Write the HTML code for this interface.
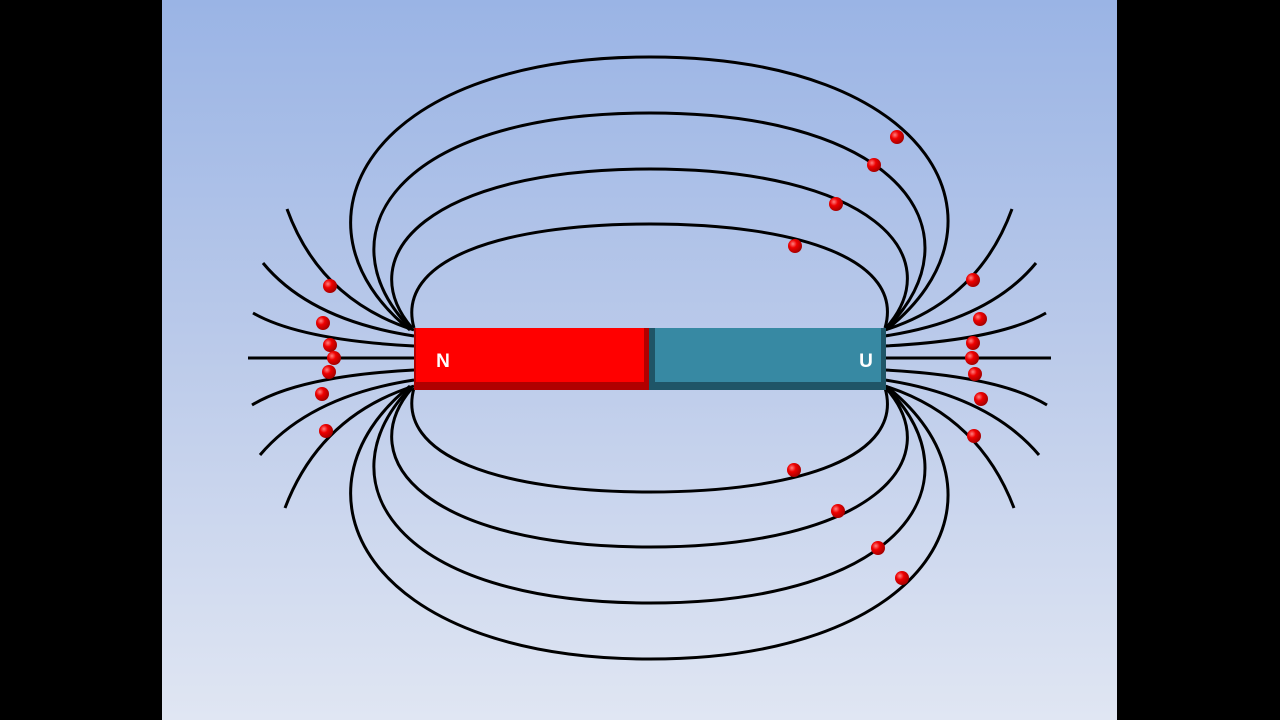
<!DOCTYPE html>
<html><head><style>
html,body{margin:0;padding:0;width:1280px;height:720px;overflow:hidden;background:#000}
</style></head><body>
<svg width="1280" height="720" viewBox="0 0 1280 720" xmlns="http://www.w3.org/2000/svg">
<defs>
<linearGradient id="bg" x1="0" y1="0" x2="0" y2="1">
<stop offset="0" stop-color="#9ab4e5"/><stop offset="0.5" stop-color="#bccbea"/><stop offset="1" stop-color="#e0e6f3"/>
</linearGradient>
<radialGradient id="ball" cx="0.35" cy="0.35" r="0.7">
<stop offset="0" stop-color="#ff8080"/><stop offset="0.4" stop-color="#ee0000"/><stop offset="1" stop-color="#a00000"/>
</radialGradient>
</defs>
<rect x="0" y="0" width="1280" height="720" fill="#000"/>
<rect x="162" y="0" width="955" height="720" fill="url(#bg)"/>
<g fill="none" stroke="#000" stroke-width="3">
<g>
<path d="M414,328 C395,260 500,224 650,224 C800,224 905,260 885,328"/>
<path d="M412,328 C350,255 430,169 650,169 C870,169 950,255 886,328"/>
<path d="M411,329 C320,235 395,113 650,113 C905,113 980,235 886,329"/>
<path d="M410,330 C280,225 365,57 650,57 C935,57 1020,225 886,330"/>
</g>
<g transform="matrix(1,0,0,-1,0,716)">
<path d="M414,328 C395,260 500,224 650,224 C800,224 905,260 885,328"/>
<path d="M412,328 C350,255 430,169 650,169 C870,169 950,255 886,328"/>
<path d="M411,329 C320,235 395,113 650,113 C905,113 980,235 886,329"/>
<path d="M410,330 C280,225 365,57 650,57 C935,57 1020,225 886,330"/>
</g>
<g>
<path d="M414,330 Q320,300 287,209"/>
<path d="M414,336 Q310,320 263,263"/>
<path d="M414,346 Q300,340 253,313"/>
<path d="M414,358 L248,358"/>
<path d="M414,370 Q300,376 252,405"/>
<path d="M414,380 Q310,396 260,455"/>
<path d="M414,386 Q320,416 285,508"/>
</g>
<g transform="matrix(-1,0,0,1,1299,0)">
<path d="M414,330 Q320,300 287,209"/>
<path d="M414,336 Q310,320 263,263"/>
<path d="M414,346 Q300,340 253,313"/>
<path d="M414,358 L248,358"/>
<path d="M414,370 Q300,376 252,405"/>
<path d="M414,380 Q310,396 260,455"/>
<path d="M414,386 Q320,416 285,508"/>
</g>
</g>
<rect x="414" y="328" width="235" height="62" fill="#b00000"/>
<rect x="416" y="328" width="228" height="54" fill="#ff0000"/>
<rect x="649" y="328" width="237" height="62" fill="#1f5567"/>
<rect x="655" y="328" width="226" height="54" fill="#3789a3"/>
<text x="443" y="367" font-family="Liberation Sans, sans-serif" font-weight="bold" font-size="19" fill="#fff" text-anchor="middle">N</text>
<text x="866" y="367" font-family="Liberation Sans, sans-serif" font-weight="bold" font-size="19" fill="#fff" text-anchor="middle">U</text>
<g fill="url(#ball)">
<circle cx="330" cy="286" r="7"/><circle cx="323" cy="323" r="7"/><circle cx="330" cy="345" r="7"/>
<circle cx="334" cy="358" r="7"/><circle cx="329" cy="372" r="7"/><circle cx="322" cy="394" r="7"/><circle cx="326" cy="431" r="7"/>
<circle cx="973" cy="280" r="7"/><circle cx="980" cy="319" r="7"/><circle cx="973" cy="343" r="7"/>
<circle cx="972" cy="358" r="7"/><circle cx="975" cy="374" r="7"/><circle cx="981" cy="399" r="7"/><circle cx="974" cy="436" r="7"/>
<circle cx="897" cy="137" r="7"/><circle cx="874" cy="165" r="7"/><circle cx="836" cy="204" r="7"/><circle cx="795" cy="246" r="7"/>
<circle cx="794" cy="470" r="7"/><circle cx="838" cy="511" r="7"/><circle cx="878" cy="548" r="7"/><circle cx="902" cy="578" r="7"/>
</g>
</svg>
</body></html>
